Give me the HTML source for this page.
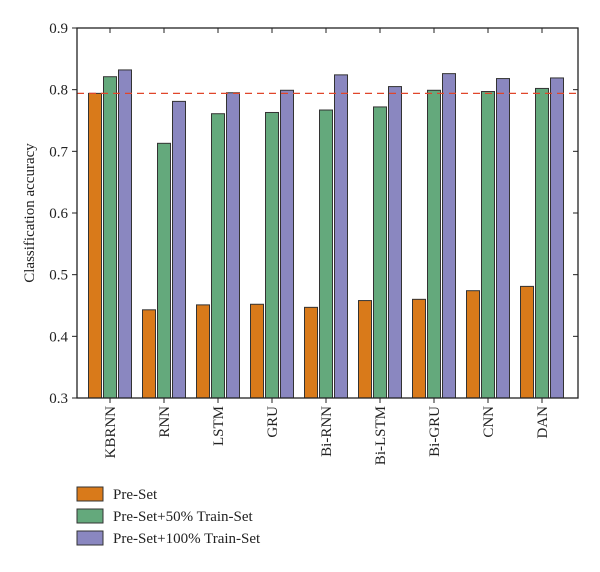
<!DOCTYPE html>
<html><head><meta charset="utf-8"><style>
body{margin:0;background:#fff;}
text{font-family:"Liberation Serif",serif;fill:#222;}
</style></head><body>
<svg width="600" height="567">
<g id="plot"></g>
</svg>
<script>
const categories=["KBRNN","RNN","LSTM","GRU","Bi-RNN","Bi-LSTM","Bi-GRU","CNN","DAN"];
const preSet=[0.794,0.443,0.451,0.452,0.447,0.458,0.460,0.474,0.481];
const preSet50=[0.821,0.713,0.761,0.763,0.767,0.772,0.799,0.797,0.802];
const preSet100=[0.832,0.781,0.795,0.799,0.824,0.805,0.826,0.818,0.819];
const yTicks=[0.3,0.4,0.5,0.6,0.7,0.8,0.9];
const refLine=0.794;
const seriesNames=["Pre-Set","Pre-Set+50% Train-Set","Pre-Set+100% Train-Set"];
const colors=["#d97a1a","#64a97c","#8a87c0"];
const NS="http://www.w3.org/2000/svg";
const g=document.getElementById('plot');
const L=77,R=578,T=28,B=398;
const y=v=>B-(v-0.3)/0.6*(B-T);
const x=i=>110+i*54;
function mk(t,a,txt){const e=document.createElementNS(NS,t);for(const k in a)e.setAttribute(k,a[k]);if(txt!=null)e.textContent=txt;g.appendChild(e);return e;}
const series=[preSet,preSet50,preSet100];
series.forEach((s,si)=>{s.forEach((v,i)=>{
 const r=mk('rect',{x:x(i)+(si-1)*15-6.5,y:y(v),width:13,height:B-y(v),fill:colors[si],stroke:'#333','stroke-width':1});
 
 
});});
const dl=mk('line',{x1:L,x2:R,y1:y(refLine),y2:y(refLine),stroke:'#e0462a','stroke-width':1.3,'stroke-dasharray':'7,5'});


const fr=mk('rect',{x:L,y:T,width:R-L,height:B-T,fill:'none',stroke:'#222','stroke-width':1.3});


yTicks.forEach(v=>{
 mk('line',{x1:L-5,x2:L,y1:y(v),y2:y(v),stroke:'#222'});
 mk('line',{x1:R-5,x2:R,y1:y(v),y2:y(v),stroke:'#222'});
 const t=mk('text',{x:L-9,y:y(v)+5,'text-anchor':'end','font-size':15},v.toFixed(1));
 
 
});
categories.forEach((c,i)=>{
 mk('line',{x1:x(i),x2:x(i),y1:B,y2:B+5,stroke:'#222'});
 mk('line',{x1:x(i),x2:x(i),y1:T,y2:T+5,stroke:'#222'});
 const t=mk('text',{x:0,y:0,'text-anchor':'end','font-size':15,transform:`translate(${x(i)+5},406) rotate(-90)`},c);
 
 
});
const yt=mk('text',{x:0,y:0,'text-anchor':'middle','font-size':15,transform:`translate(34,${(T+B)/2}) rotate(-90)`},'Classification accuracy');


seriesNames.forEach((n,i)=>{
 const r=mk('rect',{x:77,y:487+i*22,width:26,height:14,fill:colors[i],stroke:'#333'});
 
 
 const t=mk('text',{x:113,y:499+i*22,'font-size':15},n);
 
 
});
</script>
</body></html>
